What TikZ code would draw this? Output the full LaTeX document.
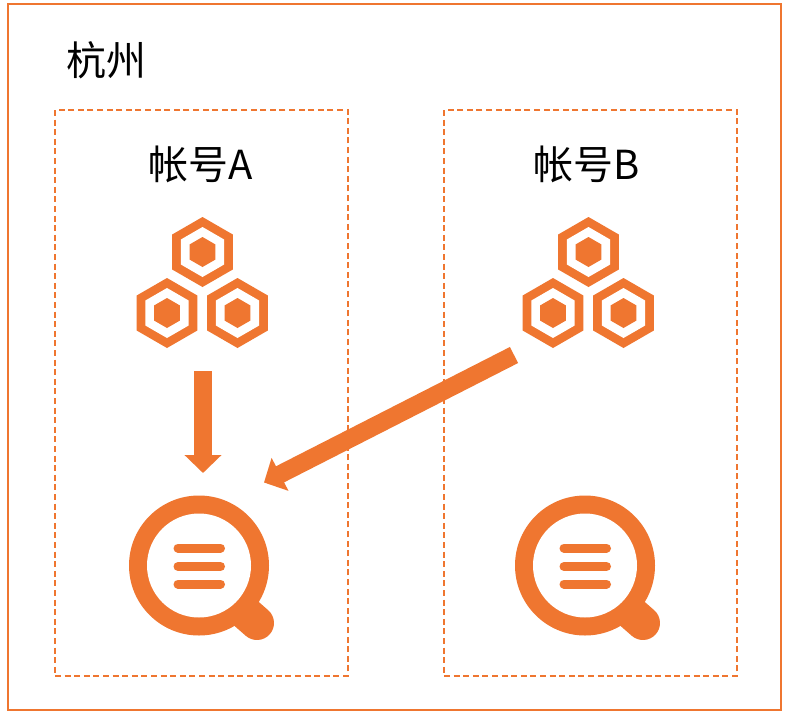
\documentclass[tikz,border=0pt]{standalone}
\usepackage{fontspec}
\setmainfont{Noto Sans CJK SC}
\usetikzlibrary{arrows.meta,shapes.geometric}
\definecolor{aliorange}{HTML}{EF7630}
\tikzset{
  hexa/.style={regular polygon,regular polygon sides=6,shape border rotate=30,inner sep=0pt,outer sep=0pt,minimum size=#1,draw=none},
  outerbox/.style={draw=aliorange,line width=2.4pt},
  zonebox/.style={draw=aliorange,line width=1.5pt,dash pattern=on 6pt off 3.6pt},
  label/.style={text=black,font=\fontsize{40pt}{44pt}\selectfont,inner sep=0pt},
  flow/.style={draw=aliorange,line width=18pt,-{Triangle[length=18pt,width=36pt,fill=aliorange]},shorten >=0pt},
  hexring/.pic={
    \node[hexa=70pt,fill=aliorange] (-o) at (0,0) {};
    \node[hexa=50pt,fill=white] (-w) at (0,0) {};
    \node[hexa=30pt,fill=aliorange] (-i) at (0,0) {};
  },
  cluster/.pic={
    \pic (-t) at (0,-61) {hexring};
    \pic (-l) at (-35.5,0) {hexring};
    \pic (-r) at (35,0) {hexring};
  },
  searchicon/.pic={
    \draw[aliorange,line width=34pt,line cap=round] (38,40) -- (58,57.5);
    \fill[aliorange] (0,0) circle (70pt);
    \fill[white] (0,0) circle (52pt);
    \draw[aliorange,line width=9pt,line cap=round] (-21,-17.5) -- (21.5,-17.5);
    \draw[aliorange,line width=9pt,line cap=round] (-21,1) -- (21.5,1);
    \draw[aliorange,line width=9pt,line cap=round] (-21,18.5) -- (21.5,18.5);
  }
}
\begin{document}
\begin{tikzpicture}[x=1pt,y=-1pt]
\useasboundingbox (0,0) rectangle (785,713);
\fill[white] (0,0) rectangle (785,713);
\node[outerbox,minimum width=773pt,minimum height=706pt,inner sep=0pt,outer sep=0pt] (region) at (394.5,357) {};
\node[zonebox,minimum width=293pt,minimum height=566pt,inner sep=0pt,outer sep=0pt] (zoneA) at (201.5,393) {};
\node[zonebox,minimum width=293pt,minimum height=566pt,inner sep=0pt,outer sep=0pt] (zoneB) at (590.5,393) {};
\node[label] (city) at (106.5,60) {杭州};
\node[label] (nameA) at (200.5,164) {帐号A};
\node[label] (nameB) at (586.5,164) {帐号B};
\pic (clA) at (202.5,313) {cluster};
\pic (clB) at (588.5,313) {cluster};
\pic (icA) at (199,565.5) {searchicon};
\pic (icB) at (585,565.5) {searchicon};
\coordinate (aStart) at (203,371);
\coordinate (aEnd) at (203,473);
\coordinate (bStart) at (514,355);
\coordinate (bEnd) at (264,482.5);
\draw[flow] (aStart) -- (aEnd);
\draw[flow] (bStart) -- (bEnd);
\end{tikzpicture}
\end{document}
